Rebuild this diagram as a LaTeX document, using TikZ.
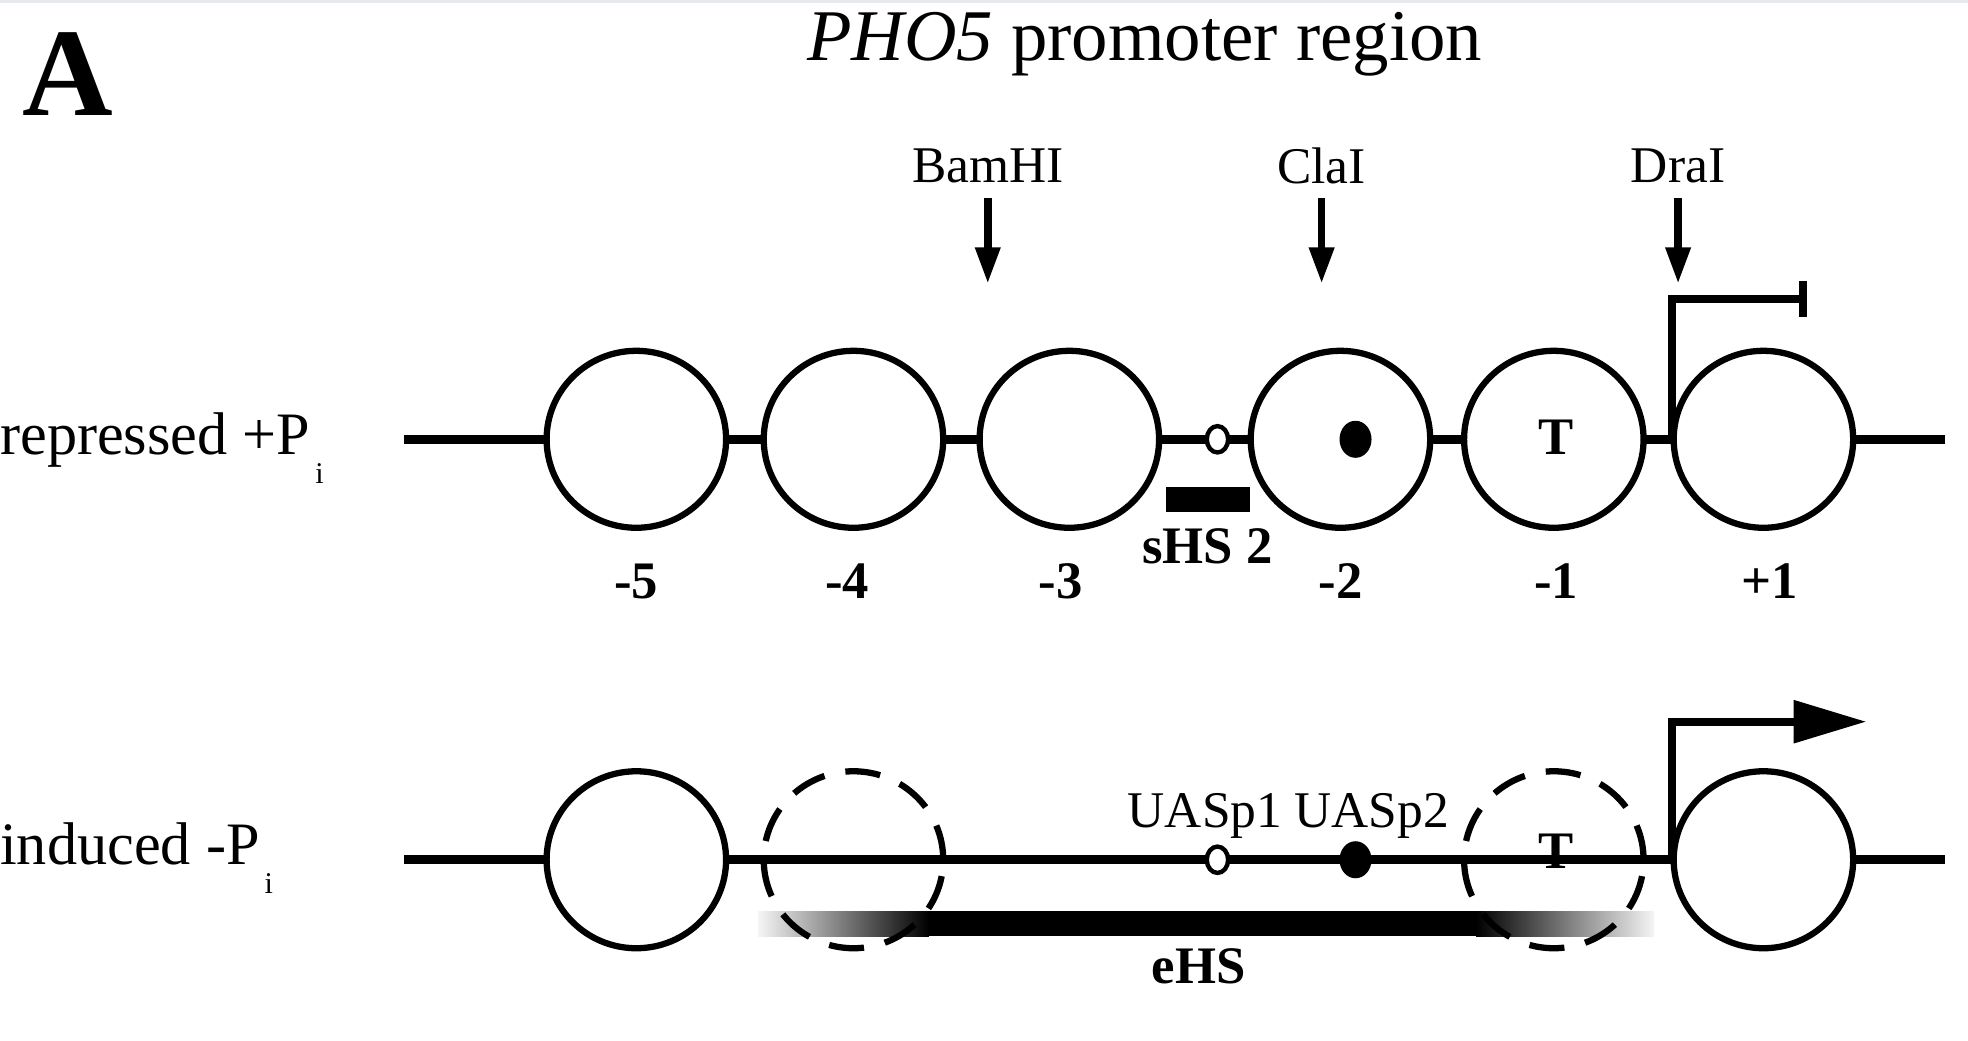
\documentclass[tikz,border=0pt]{standalone}
\usepackage{fontspec}
\setmainfont{Liberation Serif}
\usetikzlibrary{shapes.geometric,arrows.meta}
\definecolor{topband}{HTML}{E6EAEE}
\begin{document}
\begin{tikzpicture}[x=1pt,y=-1pt,
  dna/.style={line width=7pt},
  nuc/.style={ellipse, draw, line width=5pt, fill=white, minimum width=143pt, minimum height=141pt, inner sep=0pt},
  dnuc/.style={ellipse, draw, line width=5pt, dash pattern=on 28pt off 17pt, minimum width=143pt, minimum height=141pt, inner sep=0pt},
  site/.style={ellipse, draw, line width=3.5pt, inner sep=0pt, minimum width=17pt, minimum height=21pt},
  lbl/.style={font=\fontsize{41}{46}\selectfont, inner sep=0pt},
  rowlbl/.style={font=\fontsize{48}{52}\selectfont, inner sep=0pt, anchor=base west},
  num/.style={font=\fontsize{42}{46}\selectfont\bfseries, inner sep=0pt},
  cut/.style={line width=6pt, -{Triangle[length=29pt,width=19pt]}},
  prom/.style={line width=6.3pt}
]
\useasboundingbox (0,0) rectangle (1568,829);
\fill[topband] (0,0) rectangle (1568,2);
% title
\node[inner sep=0pt, anchor=base, font=\fontsize{100}{104}\selectfont\bfseries] (A) at (54,92) {A};
\node[inner sep=0pt, anchor=base, font=\fontsize{58}{62}\selectfont] (title) at (912,48) {\textit{PHO5} promoter region};
% row labels
\node[rowlbl] (rep) at (0,362) {repressed +P\raisebox{-0.48em}{\fontsize{24}{24}\selectfont\,i}};
\node[rowlbl] (ind) at (0,689) {induced -P\raisebox{-0.48em}{\fontsize{24}{24}\selectfont\,i}};
% restriction sites
\node[lbl] (bam) at (787,132) {BamHI};
\node[lbl] (cla) at (1053,132) {ClaI};
\node[lbl] (dra) at (1337,132) {DraI};
\coordinate (bamtop) at (787,158); \coordinate (bamtip) at (787,226);
\coordinate (clatop) at (1053,158); \coordinate (clatip) at (1053,226);
\coordinate (dratop) at (1337,158); \coordinate (dratip) at (1337,226);
\draw[cut] (bamtop) -- (bamtip);
\draw[cut] (clatop) -- (clatip);
\draw[cut] (dratop) -- (dratip);
% repressed row
\coordinate (r0) at (322,350); \coordinate (r1) at (1550,350);
\draw[dna] (r0) -- (r1);
\node[nuc] (n5) at (507,350) {};
\node[nuc] (n4) at (680,350) {};
\node[nuc] (n3) at (852,350) {};
\node[nuc] (n2) at (1068,350) {};
\node[nuc] (n1) at (1238,350) {};
\node[nuc] (p1) at (1405,350) {};
\node[site, fill=white] (u1) at (970,350) {};
\node[site, fill=black, minimum width=22pt, minimum height=26pt] (u2) at (1080,350) {};
\node[num] (tT) at (1240,348) {T};
\fill (929,388) rectangle (996,408);
\node[num] (shs) at (962,435) {sHS 2};
\node[num] at (507,463) {-5};
\node[num] at (675,463) {-4};
\node[num] at (845,463) {-3};
\node[num] at (1068,463) {-2};
\node[num] at (1240,463) {-1};
\node[num] at (1410,463) {+1};
% repressed promoter
\coordinate (pa) at (1332,350); \coordinate (pb) at (1332,238); \coordinate (pc) at (1440,238);
\draw[prom, -{Bar[width=29pt, line width=7pt]}] (pa) -- (pb) -- (pc);
% induced row
\shade[left color=black!4, right color=black] (604,726) rectangle (740,746);
\fill (739,726) rectangle (1177,746);
\shade[left color=black, right color=black!4] (1176,726) rectangle (1318,746);
\coordinate (i0) at (322,685); \coordinate (i1) at (1550,685);
\draw[dna] (i0) -- (i1);
\node[nuc] (m5) at (507,685) {};
\node[dnuc] (m4) at (680,685) {};
\node[dnuc] (m1) at (1238,685) {};
\node[nuc] (q1) at (1405,685) {};
\node[site, fill=white] (v1) at (970,685) {};
\node[site, fill=black, minimum width=22pt, minimum height=26pt] (v2) at (1080,685) {};
\node[num] (bT) at (1240,678) {T};
\node[lbl] (uas1) at (960,650) {UASp1};
\node[lbl] (uas2) at (1093,650) {UASp2};
\node[num] (ehs) at (955,770) {eHS};
\coordinate (qa) at (1332,685); \coordinate (qb) at (1332,575); \coordinate (qc) at (1487,575);
\draw[prom, -{Triangle[length=58pt,width=33pt]}] (qa) -- (qb) -- (qc);
\end{tikzpicture}
\end{document}
